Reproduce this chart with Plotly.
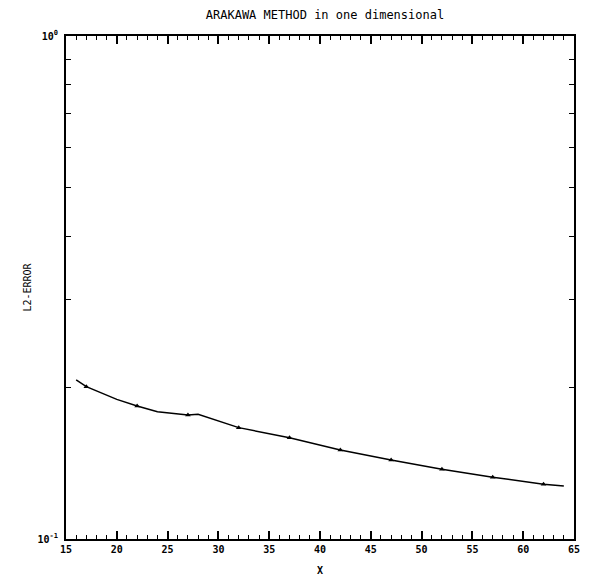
import plotly.graph_objects as go

# values
x_line = [16, 17, 20, 22, 24, 27, 28, 32, 37, 42, 47, 52, 57, 62, 64]
l2_error = [0.2071, 0.2008, 0.1895, 0.1838, 0.1791, 0.1764, 0.1770, 0.1665,
            0.1590, 0.1503, 0.1436, 0.1376, 0.1327, 0.1285, 0.1274]
marker_x = [17, 22, 27, 32, 37, 42, 47, 52, 57, 62]
y_ticks = [0.1, 1.0]
y_ticktext = ["10<sup>-1</sup>", "10<sup>0</sup>"]
y_minor = [0.2, 0.3, 0.4, 0.5, 0.6, 0.7, 0.8, 0.9]

FONT = "DejaVu Sans Mono"

marker_y = [v for xv, v in zip(x_line, l2_error) if xv in marker_x]

fig = go.Figure()

fig.add_trace(go.Scatter(
    x=x_line, y=l2_error,
    mode="lines",
    line=dict(color="black", width=1.5),
    showlegend=False,
))

fig.add_trace(go.Scatter(
    x=marker_x, y=marker_y,
    mode="markers",
    marker=dict(symbol="triangle-up", size=5, color="black"),
    showlegend=False,
))

# page body has an 8px default margin, so the figure is a bit smaller
fig.update_layout(
    width=583, height=568,
    paper_bgcolor="white", plot_bgcolor="white",
    margin=dict(l=58, r=17, t=28, b=37),
    font=dict(family=FONT, size=10, color="black"),
    title=dict(
        text="ARAKAWA METHOD in one dimensional",
        x=0.5437, xanchor="center", y=0.988, yanchor="middle",
        font=dict(family=FONT, size=12, color="black"),
    ),
)

fig.update_xaxes(
    range=[15, 65], automargin=False,
    tickmode="linear", tick0=15, dtick=5,
    ticks="inside", ticklen=8, tickwidth=1.5, tickcolor="black",
    minor=dict(dtick=1, ticks="inside", ticklen=4, tickwidth=1, tickcolor="black"),
    showline=True, linecolor="black", linewidth=2, mirror="ticks",
    showgrid=False, zeroline=False,
    tickfont=dict(family=FONT, size=10, color="black", weight="bold"),
    title=dict(text="X", standoff=13, font=dict(family=FONT, size=10, color="black", weight="bold")),
)

fig.update_yaxes(
    type="log", range=[-1, 0], automargin=False,
    tickmode="array", tickvals=y_ticks, ticktext=y_ticktext,
    ticks="inside", ticklen=8, tickwidth=1.5, tickcolor="black",
    minor=dict(tickvals=y_minor, ticks="inside", ticklen=5, tickwidth=1, tickcolor="black"),
    showline=True, linecolor="black", linewidth=2, mirror="ticks",
    showgrid=False, zeroline=False,
    tickfont=dict(family=FONT, size=10, color="black", weight="bold"),
    ticklabelstandoff=4,
    title=dict(text="L2-ERROR", standoff=4, font=dict(family=FONT, size=10, color="black")),
)

fig.write_html("out.html")
